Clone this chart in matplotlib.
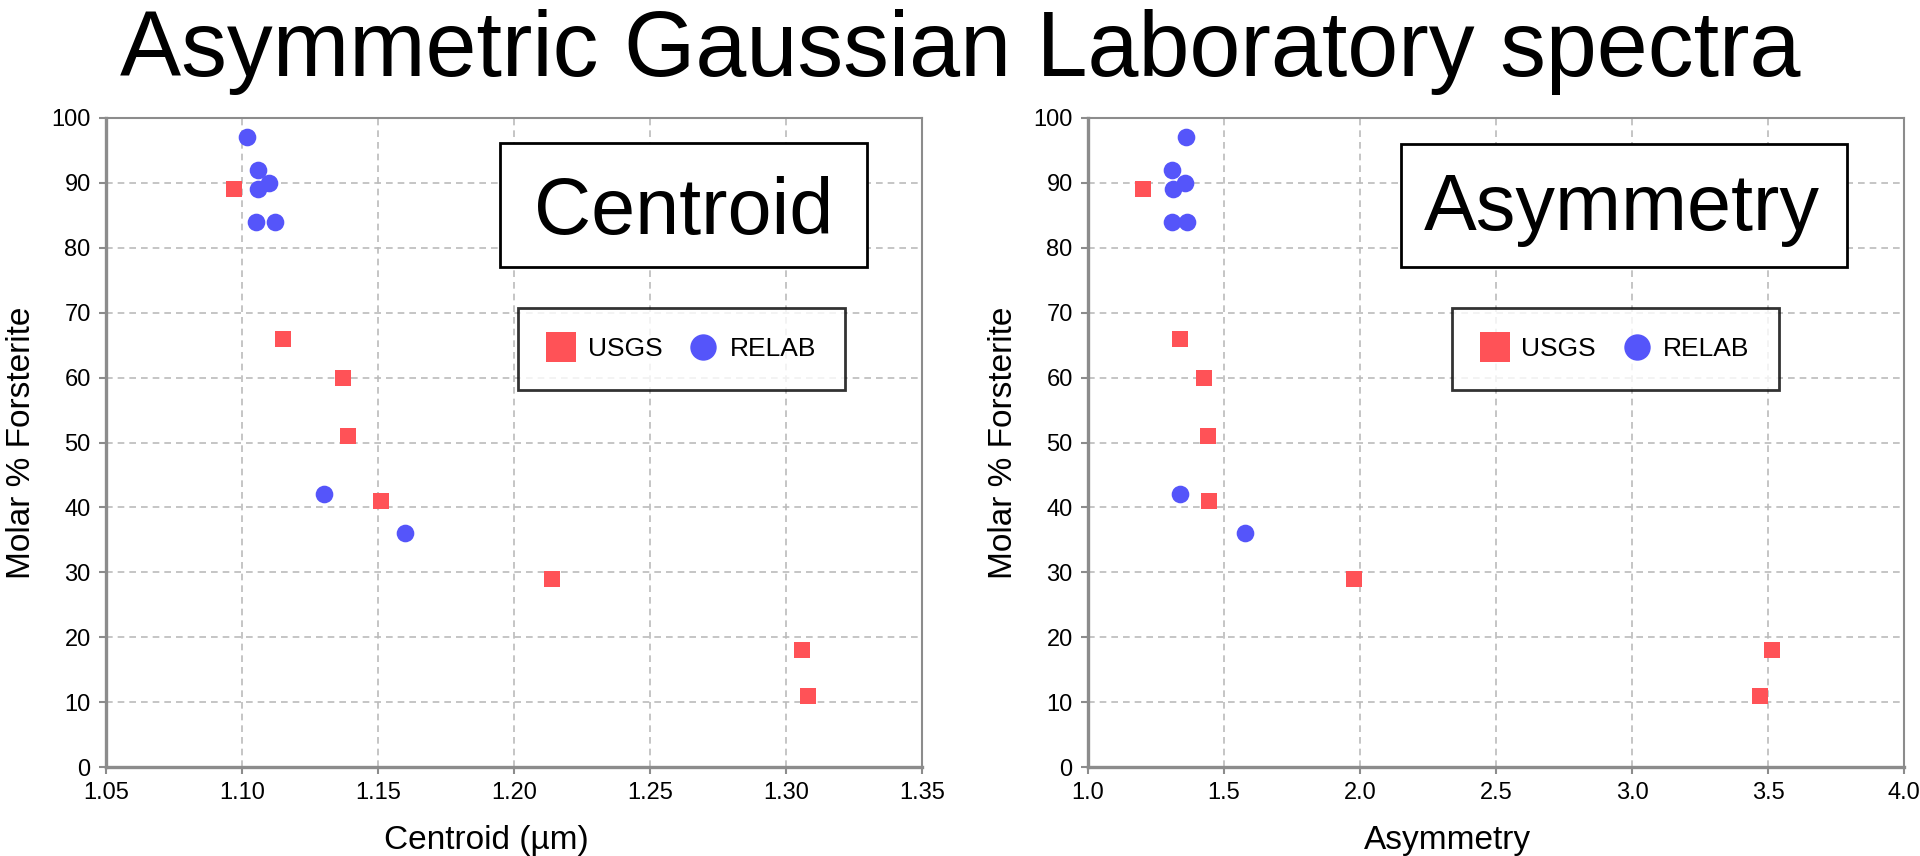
import numpy as np
import matplotlib.pyplot as plt
from matplotlib.lines import Line2D
from matplotlib.patches import Rectangle

plt.rcParams['font.family'] = ['Liberation Sans', 'DejaVu Sans']

# values
usgs_fo = [89, 66, 60, 51, 41, 29, 18, 11]
usgs_centroid = [1.097, 1.115, 1.137, 1.139, 1.151, 1.214, 1.306, 1.308]
usgs_asym = [1.201, 1.338, 1.425, 1.440, 1.444, 1.979, 3.513, 3.470]

relab_fo = [97, 92, 90, 89, 84, 84, 42, 36]
relab_centroid = [1.102, 1.106, 1.110, 1.106, 1.105, 1.112, 1.130, 1.160]
relab_asym = [1.360, 1.310, 1.357, 1.311, 1.310, 1.363, 1.339, 1.578]

centroid_ticks = [1.05, 1.10, 1.15, 1.20, 1.25, 1.30, 1.35]
asym_ticks = [1.0, 1.5, 2.0, 2.5, 3.0, 3.5, 4.0]
fo_ticks = [0, 10, 20, 30, 40, 50, 60, 70, 80, 90, 100]

red = '#FF5257'
blue = '#5555FA'
spine_col = '#8C8C8C'

fig = plt.figure(figsize=(19.2, 8.56), dpi=100)
fig.text(0.5, 1 - 76 / 856, 'Asymmetric Gaussian Laboratory spectra',
         ha='center', va='baseline', fontsize=66)

ax1 = fig.add_axes([106 / 1920, 89 / 856, 816 / 1920, 649 / 856])
ax2 = fig.add_axes([1088 / 1920, 89 / 856, 816 / 1920, 649 / 856])


def style_axis(ax, xticks, fmt, xlabel, xlabel_pos):
    ax.set_xlim(xticks[0], xticks[-1])
    ax.set_ylim(0, 100)
    ax.set_xticks(xticks)
    ax.set_xticklabels([fmt % t for t in xticks])
    ax.set_yticks(fo_ticks)
    ax.grid(True, color='#BBBBBB', linestyle=(0, (4, 3)), linewidth=1.2)
    ax.set_axisbelow(True)
    for side in ['left', 'bottom']:
        ax.spines[side].set_color(spine_col)
        ax.spines[side].set_linewidth(2.4)
    for side in ['top', 'right']:
        ax.spines[side].set_color(spine_col)
        ax.spines[side].set_linewidth(1.5)
    ax.tick_params(direction='out', length=5, width=1.5, color=spine_col,
                   labelsize=17, pad=6)
    ax.set_xlabel(xlabel, fontsize=24, labelpad=12)
    ax.xaxis.set_label_coords(xlabel_pos, -0.09)
    ax.set_ylabel('Molar % Forsterite', fontsize=24, labelpad=10)


def label_box(ax, x0, x1, y0, y1, tx, ty, text):
    ax.add_patch(Rectangle((x0, y0), x1 - x0, y1 - y0, transform=ax.transAxes,
                           facecolor='white', edgecolor='black', linewidth=2,
                           zorder=5))
    ax.text(tx, ty, text, transform=ax.transAxes, ha='center', va='baseline',
            fontsize=57, zorder=6)


def add_legend(ax, x, y):
    handles = [
        Line2D([], [], marker='s', ls='none', ms=21, mew=0, color=red, label='USGS'),
        Line2D([], [], marker='o', ls='none', ms=19, mew=0, color=blue, label='RELAB'),
    ]
    leg = ax.legend(handles=handles, loc='center', bbox_to_anchor=(x, y), ncol=2,
                    fontsize=19, frameon=True, fancybox=False, handlelength=1.1,
                    handletextpad=0.45, columnspacing=1.0, borderpad=1.1,
                    borderaxespad=0)
    leg.get_frame().set_edgecolor('black')
    leg.get_frame().set_linewidth(2)
    leg.set_zorder(6)


# left panel: centroid
ax1.plot(usgs_centroid, usgs_fo, 's', ms=12, mew=0, color=red, zorder=3)
ax1.plot(relab_centroid, relab_fo, 'o', ms=12.7, mew=0, color=blue, zorder=3)
style_axis(ax1, centroid_ticks, '%.2f', 'Centroid (µm)', 0.466)
label_box(ax1, 0.483, 0.933, 0.771, 0.961, 0.708, 0.821, 'Centroid')
add_legend(ax1, 0.705, 0.644)

# right panel: asymmetry
ax2.plot(usgs_asym, usgs_fo, 's', ms=12, mew=0, color=red, zorder=3)
ax2.plot(relab_asym, relab_fo, 'o', ms=12.7, mew=0, color=blue, zorder=3)
style_axis(ax2, asym_ticks, '%.1f', 'Asymmetry', 0.44)
label_box(ax2, 0.384, 0.930, 0.771, 0.960, 0.654, 0.827, 'Asymmetry')
add_legend(ax2, 0.646, 0.644)

plt.savefig('out.png', dpi=100)
plt.close()
